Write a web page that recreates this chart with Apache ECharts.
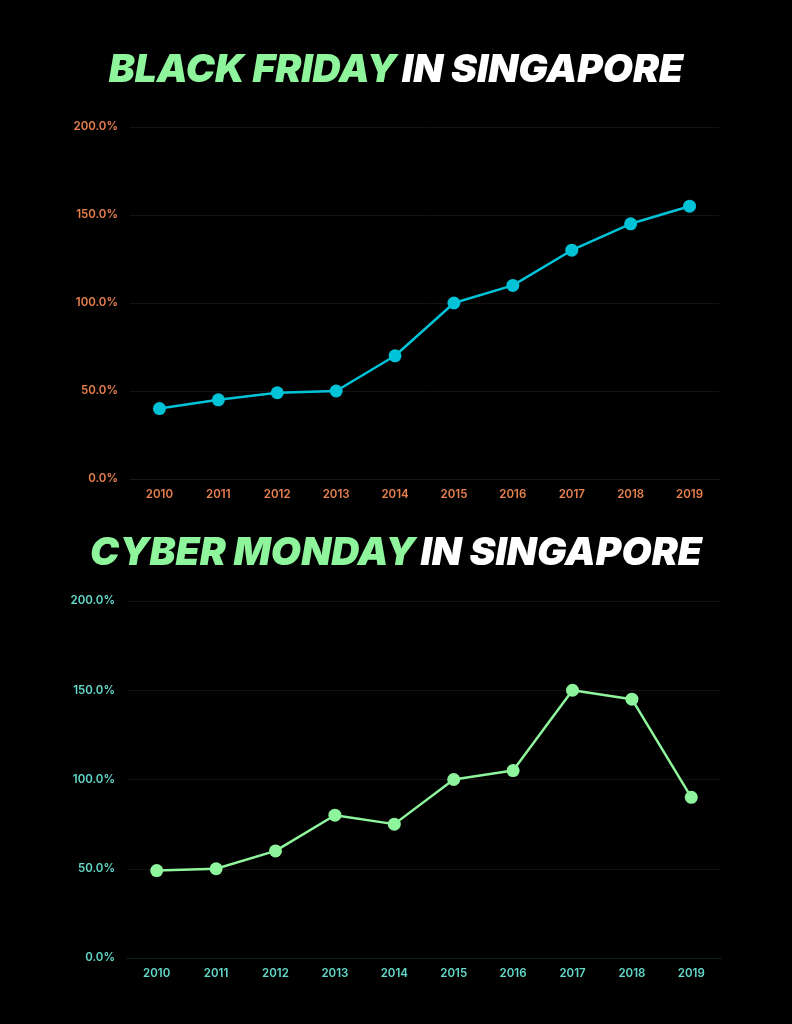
<!DOCTYPE html>
<html>
<head>
<meta charset="utf-8">
<script src="https://cdn.jsdelivr.net/npm/echarts@6/dist/echarts.min.js"></script>
<style>
html,body{margin:0;padding:0;background:#000;}
#chart{width:792px;height:1024px;}
</style>
</head>
<body>
<div id="chart"></div>
<script>
const years = ['2010','2011','2012','2013','2014','2015','2016','2017','2018','2019'];
const blackFriday = [40, 45, 49, 50, 70, 100, 110, 130, 145, 155];
const cyberMonday = [49, 50, 60, 80, 75, 100, 105, 150, 145, 90];
const yTicks = [0, 50, 100, 150, 200];

const chart = echarts.init(document.getElementById('chart'));
const titleFont = 'Inter, "Liberation Sans", sans-serif';
const titleRich = {
  g: {color: '#8ef59c', fontSize: 39, fontWeight: 900, fontStyle: 'italic', fontFamily: titleFont},
  w: {color: '#ffffff', fontSize: 39, fontWeight: 900, fontStyle: 'italic', fontFamily: titleFont}
};
const option = {
  backgroundColor: '#000',
  title: [
    {left: 'center', top: 46, text: '{g|BLACK FRIDAY} {w|IN SINGAPORE}', textStyle: {rich: titleRich}},
    {left: 'center', top: 529, text: '{g|CYBER MONDAY} {w|IN SINGAPORE}', textStyle: {rich: titleRich}}
  ],
  grid: [
    {left: 130, right: 73, top: 127, height: 352},
    {left: 127, right: 71, top: 601, height: 357}
  ],
  xAxis: [0,1].map(i => ({
    type: 'category', gridIndex: i, data: years, boundaryGap: true,
    axisLine: {show: true, lineStyle: {color: i === 0 ? '#1e1410' : '#0f1e1c'}},
    axisTick: {show: false},
    axisLabel: {color: i === 0 ? '#e9814f' : '#63d9cb', fontSize: 11.5, margin: 10, fontFamily: 'Inter, sans-serif', fontWeight: 600}
  })),
  yAxis: [0,1].map(i => ({
    type: 'value', gridIndex: i, min: yTicks[0], max: yTicks[yTicks.length-1], interval: 50,
    axisLine: {show: false}, axisTick: {show: false},
    splitLine: {lineStyle: {color: '#121212', width: 1}},
    axisLabel: {color: i === 0 ? '#e9814f' : '#63d9cb', fontSize: 11.5, margin: 12, fontFamily: 'Inter, sans-serif', fontWeight: 600,
      formatter: v => v.toFixed(1) + '%'}
  })),
  series: [
    {
      type: 'line', xAxisIndex: 0, yAxisIndex: 0, data: blackFriday,
      symbol: 'circle', symbolSize: 13,
      lineStyle: {color: '#00c3d8', width: 2.5},
      itemStyle: {color: '#00c3d8'}
    },
    {
      type: 'line', xAxisIndex: 1, yAxisIndex: 1, data: cyberMonday,
      symbol: 'circle', symbolSize: 13,
      lineStyle: {color: '#8ef59c', width: 2.5},
      itemStyle: {color: '#8ef59c'}
    }
  ]
};
chart.setOption(option);
</script>
</body>
</html>
